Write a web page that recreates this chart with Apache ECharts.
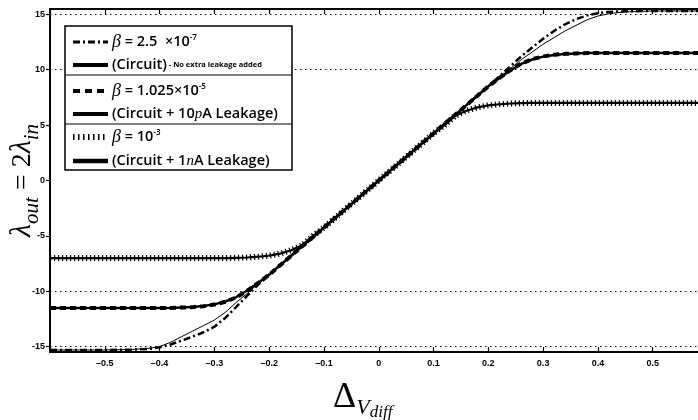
<!DOCTYPE html>
<html>
<head>
<meta charset="utf-8">
<script src="https://cdn.jsdelivr.net/npm/echarts@6/dist/echarts.min.js"></script>
<style>
  html, body { margin: 0; padding: 0; background: #fff; }
  #chart { width: 698px; height: 420px; }
</style>
</head>
<body>
<div id="chart"></div>
<script>
// x positions (Delta V_diff) shared by every curve
const xValues = [-0.6, -0.55, -0.5, -0.45, -0.42, -0.4, -0.38, -0.36, -0.34, -0.32, -0.3, -0.28, -0.26, -0.24, -0.22, -0.2, -0.18, -0.16, -0.14, -0.12, -0.1, -0.05,
  0, 0.05, 0.1, 0.12, 0.14, 0.16, 0.18, 0.2, 0.22, 0.24, 0.26, 0.28, 0.3, 0.32, 0.34, 0.36, 0.38, 0.4, 0.42, 0.45, 0.5, 0.55, 0.6];

// beta = 2.5e-7 (dash-dot) and circuit, no extra leakage (thin)
const betaA = [-15.3, -15.3, -15.3, -15.27, -15.2, -15.05, -14.8, -14.45, -14.1, -13.7, -13.2, -12.4, -11.4, -10.4, -9.4, -8.5, -7.65, -6.8, -5.95, -5.1, -4.25, -2.12,
  0, 2.12, 4.25, 5.1, 5.95, 6.8, 7.65, 8.5, 9.4, 10.3, 11.2, 12.0, 12.8, 13.5, 14.1, 14.55, 14.9, 15.1, 15.22, 15.28, 15.3, 15.3, 15.3];
const circuitA = [-15.3, -15.3, -15.3, -15.25, -15.15, -15.0, -14.6, -14.1, -13.6, -13.1, -12.6, -11.9, -11.0, -10.2, -9.3, -8.5, -7.65, -6.8, -5.95, -5.1, -4.25, -2.12,
  0, 2.12, 4.25, 5.1, 5.95, 6.8, 7.65, 8.5, 9.3, 10.1, 10.9, 11.6, 12.3, 12.9, 13.5, 14.0, 14.5, 14.85, 15.05, 15.22, 15.3, 15.3, 15.3];

// beta = 1.025e-5 (dashed) and circuit + 10pA leakage
const betaB = [-11.5, -11.5, -11.5, -11.5, -11.5, -11.5, -11.5, -11.47, -11.43, -11.35, -11.2, -10.95, -10.55, -9.95, -9.25, -8.5, -7.65, -6.8, -5.95, -5.1, -4.25, -2.12,
  0, 2.12, 4.25, 5.1, 5.95, 6.8, 7.65, 8.5, 9.25, 9.95, 10.55, 10.95, 11.2, 11.35, 11.43, 11.47, 11.5, 11.5, 11.5, 11.5, 11.5, 11.5, 11.5];
const circuitB = [-11.5, -11.5, -11.5, -11.5, -11.5, -11.5, -11.5, -11.47, -11.42, -11.33, -11.18, -10.92, -10.52, -9.93, -9.24, -8.5, -7.65, -6.8, -5.95, -5.1, -4.25, -2.12,
  0, 2.12, 4.25, 5.1, 5.95, 6.8, 7.65, 8.5, 9.24, 9.93, 10.52, 10.92, 11.18, 11.33, 11.42, 11.47, 11.5, 11.5, 11.5, 11.5, 11.5, 11.5, 11.5];

// beta = 1e-3 (dotted) and circuit + 1nA leakage
const betaC = [-7.0, -7.0, -7.0, -7.0, -7.0, -7.0, -7.0, -7.0, -7.0, -7.0, -7.0, -7.0, -6.98, -6.95, -6.88, -6.78, -6.6, -6.3, -5.85, -5.0, -4.25, -2.12,
  0, 2.12, 4.25, 5.0, 5.85, 6.3, 6.6, 6.78, 6.88, 6.95, 6.98, 7.0, 7.0, 7.0, 7.0, 7.0, 7.0, 7.0, 7.0, 7.0, 7.0, 7.0, 7.0];
const circuitC = betaC.slice();

const yTickValues = [-15, -10, -5, 0, 5, 10, 15];
const gridLineValues = [-15, -10, 10, 15];

const pairs = ys => xValues.map((x, i) => [x, ys[i]]);

const chart = echarts.init(document.getElementById('chart'));

const labelFont = { fontFamily: 'Liberation Sans Narrow, Liberation Sans, sans-serif', fontWeight: 'bold', fontSize: 9, color: '#000' };
const serif = 'Liberation Serif, DejaVu Serif, serif';
const sans = 'Open Sans, sans-serif';

function lineSeries(name, ys, width, type, z) {
  return {
    name: name,
    type: 'line',
    data: pairs(ys),
    showSymbol: false,
    symbol: 'none',
    smooth: false,
    silent: true,
    z: z,
    lineStyle: { color: '#000', width: width, type: type, cap: 'butt', join: 'round' }
  };
}

const circuitASeries = lineSeries('circuitA', circuitA, 1, 'solid', 3);
circuitASeries.markLine = {
  silent: true,
  symbol: 'none',
  label: { show: false },
  lineStyle: { color: '#000', width: 1, type: [1.5, 3.5] },
  data: gridLineValues.map(v => ({ yAxis: v }))
};

// legend box drawn by hand (matlab-style grouped legend)
const legendRows = [
  { y: 42, sample: [7, 3, 2, 3], w: 3, text: '{b|β}{n| = 2.5  ×10}{p|-7}' },
  { y: 65, sample: 'solid', w: 4, text: '{n|(Circuit)}{t| - No extra leakage added}' },
  { y: 91, sample: [7, 5], w: 4, text: '{b|β}{n| = 1.025×10}{p|-5}' },
  { y: 114, sample: 'solid', w: 4, text: '{n|(Circuit + 10}{i|p}{n|A Leakage)}' },
  { y: 137, sample: [1.5, 3.5], w: 6, text: '{b|β}{n| = 10}{p|-3}' },
  { y: 161, sample: 'solid', w: 4.5, text: '{n|(Circuit + 1}{i|n}{n|A Leakage)}' }
];
const legendRich = {
  n: { fontFamily: sans, fontSize: 14.5, fontWeight: 600, color: '#000', lineHeight: 16 },
  b: { fontFamily: serif, fontStyle: 'italic', fontSize: 18, color: '#000', lineHeight: 16 },
  i: { fontFamily: serif, fontStyle: 'italic', fontSize: 15, color: '#000', lineHeight: 16 },
  p: { fontFamily: sans, fontSize: 8, fontWeight: 600, color: '#000', padding: [0, 0, 9, 0] },
  t: { fontFamily: sans, fontSize: 7.5, fontWeight: 700, color: '#000', lineHeight: 16 }
};
const graphics = [
  { type: 'rect', shape: { x: 65, y: 26, width: 227, height: 144 }, style: { fill: '#fff', stroke: '#000', lineWidth: 1.5 }, z: 100 },
  { type: 'line', shape: { x1: 65, y1: 75, x2: 292, y2: 75 }, style: { stroke: '#000', lineWidth: 1.2 }, z: 101 },
  { type: 'line', shape: { x1: 65, y1: 124, x2: 292, y2: 124 }, style: { stroke: '#000', lineWidth: 1.2 }, z: 101 }
];
legendRows.forEach(r => {
  graphics.push({
    type: 'line',
    shape: { x1: 73, y1: r.y, x2: 108, y2: r.y },
    style: { stroke: '#000', lineWidth: r.w, lineDash: r.sample === 'solid' ? null : r.sample, lineCap: 'butt' },
    z: 102
  });
  graphics.push({
    type: 'text',
    x: 112,
    y: r.y,
    style: { text: r.text, rich: legendRich, verticalAlign: 'middle', align: 'left' },
    z: 102
  });
});

chart.setOption({
  animation: false,
  backgroundColor: '#fff',
  grid: { left: 50, top: 9, right: -9.5, bottom: 68, containLabel: false, outerBoundsMode: 'none' },
  xAxis: [{
    type: 'value',
    min: -0.6,
    max: 0.6,
    interval: 0.1,
    position: 'bottom',
    axisLine: { onZero: false, lineStyle: { color: '#000', width: 2 } },
    axisTick: { inside: true, length: 5, lineStyle: { color: '#000', width: 1.2 } },
    splitLine: { show: false },
    axisLabel: Object.assign({
      margin: 7,
      formatter: v => (Math.abs(v) > 0.55 ? '' : String(Math.round(v * 10) / 10).replace('-', '\u2013'))
    }, labelFont),
    name: '{d|Δ}{v|V}{s|diff}',
    nameLocation: 'middle',
    nameGap: 22,
    nameMoveOverlap: false,
    nameTextStyle: {
      padding: [0, 32, 0, 0],
      rich: {
        d: { fontFamily: serif, fontSize: 36, color: '#000', lineHeight: 36 },
        v: { fontFamily: serif, fontStyle: 'italic', fontSize: 22, color: '#000', padding: [22, 0, 0, 0] },
        s: { fontFamily: serif, fontStyle: 'italic', fontSize: 17, color: '#000', padding: [30, 0, 0, 0] }
      }
    }
  }, {
    type: 'value',
    min: -0.6,
    max: 0.6,
    interval: 0.1,
    position: 'top',
    axisLine: { onZero: false, lineStyle: { color: '#000', width: 2 } },
    axisTick: { inside: true, length: 5, lineStyle: { color: '#000', width: 1.2 } },
    axisLabel: { show: false },
    splitLine: { show: false }
  }],
  yAxis: {
    type: 'value',
    min: -15.48,
    max: 15.48,
    axisLine: { show: true, onZero: false, lineStyle: { color: '#000', width: 2 } },
    axisTick: { show: true, inside: false, length: 4, customValues: yTickValues, lineStyle: { color: '#000', width: 1.2 } },
    axisLabel: Object.assign({ margin: 5, customValues: yTickValues }, labelFont),
    splitLine: { show: false },
    name: '{m|λ}{s|out}{e| = 2}{m|λ}{s|in}',
    nameLocation: 'middle',
    nameRotate: 90,
    nameGap: 7,
    nameMoveOverlap: false,
    nameTextStyle: {
      rich: {
        m: { fontFamily: serif, fontStyle: 'italic', fontSize: 30, color: '#000', lineHeight: 34 },
        e: { fontFamily: serif, fontSize: 28, color: '#000', lineHeight: 34 },
        s: { fontFamily: serif, fontStyle: 'italic', fontSize: 21, color: '#000', padding: [20, 0, 0, 0] }
      }
    }
  },
  series: [
    circuitASeries,
    lineSeries('betaA', betaA, 2.5, [7, 3, 2, 3], 4),
    lineSeries('circuitB', circuitB, 2.5, 'solid', 3),
    lineSeries('betaB', betaB, 4, [6, 4], 4),
    lineSeries('circuitC', circuitC, 2.2, 'solid', 3),
    lineSeries('betaC', betaC, 6, [1.2, 2.8], 4)
  ],
  graphic: graphics
});
</script>
</body>
</html>
